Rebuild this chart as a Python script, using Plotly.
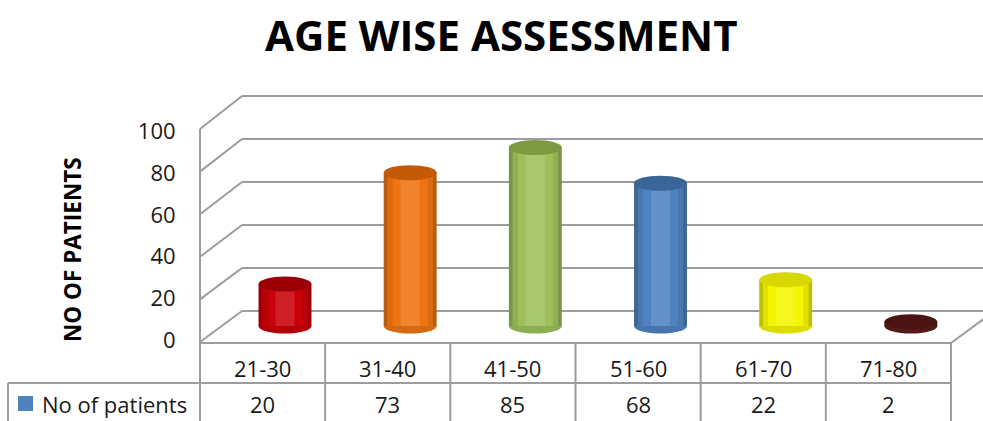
import plotly.graph_objects as go

# ---------------- data ----------------
categories = ["21-30", "31-40", "41-50", "51-60", "61-70", "71-80"]
patients = [20, 73, 85, 68, 22, 2]
y_ticks = [0, 20, 40, 60, 80, 100]
series_name = "No of patients"
title_text = "AGE WISE ASSESSMENT"
y_title = "NO OF PATIENTS"

# ---------------- styles ----------------
body_colors = ["#C8000A", "#EE7412", "#9DC05A", "#4F82C0", "#F5F500", "#5E1C1A"]
top_colors = ["#9A0006", "#C25A08", "#7D9A42", "#3A6598", "#D8D800", "#4A1412"]
legend_color = "#4F81BD"
grid_color = "#9C9C9C"
text_color = "#1A1A1A"
FONT = "Open Sans"

W, H = 983, 421
L, R, T, B = 200, 983, 95, 343  # plot area in pixels


def px(x):
    return (x - L) / (R - L)


def py(y):
    return (B - y) / (B - T)


def mix(c, target, t):
    a = [int(c[i:i + 2], 16) for i in (1, 3, 5)]
    b = [int(target[i:i + 2], 16) for i in (1, 3, 5)]
    return "#" + "".join(f"{round(x + (y - x) * t):02X}" for x, y in zip(a, b))


# perspective constants (pixels)
back_x, back_y0, back_k = 242, 311, 2.15
front_y0, front_k = 342, 2.13
col_w = 125.17
n = len(categories)
table_right = L + col_w * n
bar_w = 0.423

fig = go.Figure()

# cylinder shading: layered bars, darker edges and lighter centre
shade_layers = [(1.00, "#000000", 0.22), (0.86, "#000000", 0.08),
                (0.66, "#FFFFFF", 0.0), (0.36, "#FFFFFF", 0.12)]
for frac, tgt, amt in shade_layers:
    fig.add_trace(go.Bar(
        x=categories, y=patients, width=bar_w * frac,
        marker=dict(color=[mix(c, tgt, amt) for c in body_colors], line=dict(width=0)),
        xaxis="x", yaxis="y", showlegend=False, hoverinfo="skip",
    ))

shapes = []
line_style = dict(color=grid_color, width=2)

# back wall gridlines + left-wall diagonals
for v in y_ticks:
    yb = back_y0 - back_k * v
    yf = front_y0 - front_k * v
    shapes.append(dict(type="line", xref="paper", yref="paper", layer="below",
                       x0=px(back_x), y0=py(yb), x1=px(W + 5), y1=py(yb), line=line_style))
    shapes.append(dict(type="line", xref="paper", yref="paper", layer="below",
                       x0=px(L), y0=py(yf), x1=px(back_x), y1=py(yb), line=line_style))

# front-left vertical edge
shapes.append(dict(type="line", xref="paper", yref="paper", layer="below",
                   x0=px(L), y0=py(front_y0 - front_k * max(y_ticks)), x1=px(L), y1=py(H + 5),
                   line=line_style))
# floor right diagonal
shapes.append(dict(type="line", xref="paper", yref="paper", layer="below",
                   x0=px(table_right), y0=py(B), x1=px(table_right + 42), y1=py(B - 31),
                   line=line_style))
# table lines
shapes.append(dict(type="line", xref="paper", yref="paper", layer="below",
                   x0=px(L), y0=py(B), x1=px(table_right), y1=py(B), line=line_style))
shapes.append(dict(type="line", xref="paper", yref="paper", layer="below",
                   x0=px(8), y0=py(383), x1=px(table_right), y1=py(383), line=line_style))
shapes.append(dict(type="line", xref="paper", yref="paper", layer="below",
                   x0=px(8), y0=py(383), x1=px(8), y1=py(H + 5), line=line_style))
for j in range(1, n + 1):
    xx = L + col_w * j
    shapes.append(dict(type="line", xref="paper", yref="paper", layer="below",
                       x0=px(xx), y0=py(B), x1=px(xx), y1=py(H + 5), line=line_style))
# legend key
shapes.append(dict(type="rect", xref="paper", yref="paper", layer="above",
                   x0=px(18), y0=py(396), x1=px(33), y1=py(411),
                   fillcolor=legend_color, line=dict(width=0)))

# cylinder ends
half_w = bar_w / 2
eh = 3.6
for i, v in enumerate(patients):
    shapes.append(dict(type="circle", xref="x", yref="y", layer="between",
                       x0=i - half_w, x1=i + half_w, y0=-eh, y1=eh,
                       fillcolor=mix(body_colors[i], "#000000", 0.1), line=dict(width=0)))
    shapes.append(dict(type="circle", xref="x", yref="y", layer="above",
                       x0=i - half_w, x1=i + half_w, y0=v - eh, y1=v + eh,
                       fillcolor=top_colors[i], line=dict(width=0)))

annotations = []
annotations.append(dict(text=f"<b>{title_text}</b>", xref="paper", yref="paper",
                        x=px(501), y=py(34), showarrow=False, xanchor="center", yanchor="middle",
                        font=dict(family=FONT, size=42, color="#000000")))
annotations.append(dict(text=f"<b>{y_title}</b>", xref="paper", yref="paper",
                        x=px(72), y=py(250), showarrow=False, textangle=-90,
                        xanchor="center", yanchor="middle",
                        font=dict(family=FONT, size=22.5, color="#000000")))
for i, (c, v) in enumerate(zip(categories, patients)):
    xc = L + col_w * (i + 0.5)
    annotations.append(dict(text=c, xref="paper", yref="paper", x=px(xc), y=py(368),
                            showarrow=False, xanchor="center", yanchor="middle",
                            font=dict(family=FONT, size=22, color=text_color)))
    annotations.append(dict(text=str(v), xref="paper", yref="paper", x=px(xc), y=py(404),
                            showarrow=False, xanchor="center", yanchor="middle",
                            font=dict(family=FONT, size=22, color=text_color)))
annotations.append(dict(text=series_name, xref="paper", yref="paper", x=px(40), y=py(404),
                        showarrow=False, xanchor="left", yanchor="middle",
                        font=dict(family=FONT, size=22, color=text_color)))

# bar axis: 0 at y=326px, 2.1 px/unit
bar_y0, bar_k = 326, 2.1
# label axis: 0 at 340px, 2.083 px/unit
lab_y0, lab_k = 340, 2.083

fig.update_layout(
    width=W, height=H,
    margin=dict(l=L, r=W - R, t=T, b=H - B, autoexpand=False),
    paper_bgcolor="white", plot_bgcolor="rgba(0,0,0,0)",
    showlegend=False,
    barmode="overlay",
    xaxis=dict(type="category", range=[(L - 285) / col_w, (R - 285) / col_w],
               visible=False, fixedrange=True, automargin=False),
    yaxis=dict(range=[(bar_y0 - B) / bar_k, (bar_y0 - T) / bar_k], visible=False,
               automargin=False),
    yaxis3=dict(overlaying="y", anchor="x", side="left", automargin=False,
                range=[(lab_y0 - B) / lab_k, (lab_y0 - T) / lab_k],
                tickvals=y_ticks, ticktext=[str(t) for t in y_ticks],
                showgrid=False, zeroline=False, showline=False,
                ticks="outside", ticklen=19, tickcolor="rgba(0,0,0,0)",
                tickfont=dict(family=FONT, size=22, color=text_color)),
    shapes=shapes,
    annotations=annotations,
)
# dummy invisible trace to activate the label axis
fig.add_trace(go.Scatter(x=[categories[0]], y=[0], yaxis="y3", xaxis="x",
                         mode="markers", marker=dict(opacity=0), showlegend=False,
                         hoverinfo="skip"))

fig.write_html(
    "out.html",
    config={"displayModeBar": False},
    post_script="document.body.style.margin='0';document.body.style.padding='0';"
                "document.body.style.overflow='hidden';",
)
